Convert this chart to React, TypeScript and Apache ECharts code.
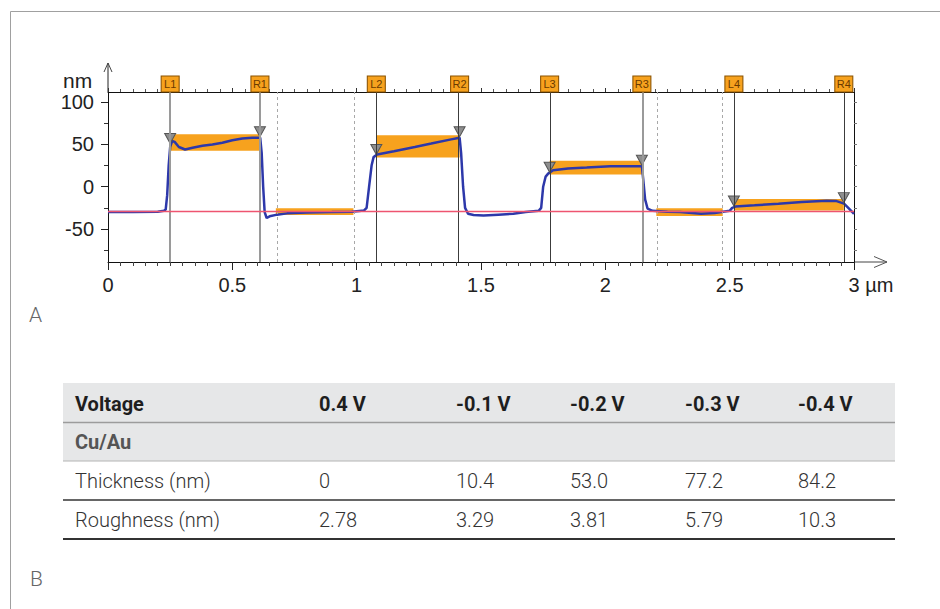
import React, { useEffect, useRef } from 'react';
import * as echarts from 'echarts';

// ---------- chart data ----------
const profileX = [0, 0.1, 0.2, 0.225, 0.232, 0.238, 0.244, 0.25, 0.258, 0.268, 0.285, 0.31, 0.34, 0.38, 0.42, 0.46, 0.5, 0.54, 0.58, 0.605, 0.612, 0.618, 0.624, 0.63, 0.638, 0.65, 0.68, 0.72, 0.8, 0.9, 0.98, 1.03, 1.04, 1.05, 1.06, 1.068, 1.082, 1.15, 1.234, 1.3, 1.38, 1.414, 1.42, 1.428, 1.436, 1.448, 1.47, 1.51, 1.57, 1.63, 1.68, 1.732, 1.742, 1.75, 1.76, 1.77, 1.79, 1.85, 1.925, 2.02, 2.147, 2.152, 2.16, 2.17, 2.19, 2.25, 2.3, 2.385, 2.44, 2.5, 2.51, 2.523, 2.6, 2.696, 2.79, 2.89, 2.93, 2.96, 2.98, 3.0];
const profileY = [-30, -30, -29.5, -28.5, -27, -10, 25, 47, 54, 53, 47, 44, 46, 48.5, 50, 52, 55, 57, 58, 58, 58, 40, 0, -30, -37, -35, -33, -31.5, -30.5, -30, -29.5, -28, -25, 0, 25, 35, 38, 42, 47, 51, 56, 58, 40, 0, -25, -32, -33.5, -34, -33, -32, -30, -28.5, -25, 0, 12, 15.5, 19.5, 21.5, 22.7, 24.3, 24.3, 10, -15, -26, -28.5, -29.5, -30, -32, -31, -28.5, -25, -23.5, -22, -20, -18, -16.5, -17, -20, -26, -32];

const cursorNames = ['L1', 'R1', 'L2', 'R2', 'L3', 'R3', 'L4', 'R4'];
const cursorX = [0.25, 0.611, 1.079, 1.414, 1.776, 2.147, 2.517, 2.959];
const cursorY = [50, 58, 37, 58, 16, 24.3, -24, -20];
const grayCursors = ['L1', 'R1', 'R3'];
const referenceX = [0.675, 0.987, 2.205, 2.472];

const bandX0 = [0.25, 0.675, 1.079, 1.776, 2.205, 2.517];
const bandX1 = [0.611, 0.987, 1.414, 2.147, 2.472, 2.959];
const bandLow = [42.4, -33.5, 34.5, 14.5, -34.5, -28];
const bandHigh = [62, -25.5, 61, 30.6, -25.5, -14.5];

const baselineY = -28.6;
const yMin = -89;
const yMax = 112;
const yLabelValues = [-50, 0, 50, 100];
const yMinorValues = [-75, -25, 25, 75];
const yRightTicks = [-75, -50, -25, 0, 25, 50, 75, 100];

// ---------- table data ----------
const tableHeader = ['Voltage', '0.4 V', '-0.1 V', '-0.2 V', '-0.3 V', '-0.4 V'];
const groupLabel = 'Cu/Au';
const thicknessLabel = 'Thickness (nm)';
const thicknessValues = ['0', '10.4', '53.0', '77.2', '84.2'];
const roughnessLabel = 'Roughness (nm)';
const roughnessValues = ['2.78', '3.29', '3.81', '5.79', '10.3'];

// ---------- style ----------
const ORANGE = '#F7A21E';
const BLUE = '#2D38AA';
const RED = '#EE5570';
const AXIS_FONT = 'Liberation Sans, Arial, sans-serif';
const TABLE_FONT = 'Roboto, Liberation Sans, sans-serif';

const colX = [75, 319, 456, 570, 685, 798];
const TABLE_LEFT = 63;
const TABLE_W = 832;

function buildTable(): any[] {
  const els: any[] = [];
  els.push({ type: 'rect', shape: { x: TABLE_LEFT, y: 383, width: TABLE_W, height: 78 }, style: { fill: '#E6E7E8' }, silent: true });
  els.push({ type: 'line', shape: { x1: TABLE_LEFT, y1: 422.5, x2: TABLE_LEFT + TABLE_W, y2: 422.5 }, style: { stroke: '#9C9C9C', lineWidth: 1.5 } });
  els.push({ type: 'line', shape: { x1: TABLE_LEFT, y1: 461, x2: TABLE_LEFT + TABLE_W, y2: 461 }, style: { stroke: '#B4B4B4', lineWidth: 1 } });
  els.push({ type: 'line', shape: { x1: TABLE_LEFT, y1: 500, x2: TABLE_LEFT + TABLE_W, y2: 500 }, style: { stroke: '#333', lineWidth: 1.5 } });
  els.push({ type: 'line', shape: { x1: TABLE_LEFT, y1: 539, x2: TABLE_LEFT + TABLE_W, y2: 539 }, style: { stroke: '#333', lineWidth: 2 } });
  tableHeader.forEach((t, i) => {
    els.push({ type: 'text', x: colX[i], y: 404, style: { text: t, font: `bold 20px ${TABLE_FONT}`, fill: '#1E1E1E', textVerticalAlign: 'middle' } });
  });
  els.push({ type: 'text', x: colX[0], y: 442, style: { text: groupLabel, font: `bold 20px ${TABLE_FONT}`, fill: '#555', textVerticalAlign: 'middle' } });
  const rows: [string, string[], number][] = [
    [thicknessLabel, thicknessValues, 481],
    [roughnessLabel, roughnessValues, 520],
  ];
  rows.forEach(([label, vals, y]) => {
    els.push({ type: 'text', x: colX[0], y, style: { text: label, font: `300 20px ${TABLE_FONT}`, fill: '#333', textVerticalAlign: 'middle' } });
    vals.forEach((v, i) => {
      els.push({ type: 'text', x: colX[i + 1], y, style: { text: v, font: `300 20px ${TABLE_FONT}`, fill: '#333', textVerticalAlign: 'middle' } });
    });
  });
  return els;
}

function buildOption(): any {
  const cursorLines = cursorX.map((x, i) => {
    const gray = grayCursors.includes(cursorNames[i]);
    return {
      xAxis: x,
      lineStyle: { color: gray ? '#9A9A9A' : '#3C3C3C', width: gray ? 2 : 1, type: 'solid' },
    };
  });
  const refLines = referenceX.map((x) => ({
    xAxis: x,
    lineStyle: { color: '#A8A8A8', width: 1, type: [3, 3] },
  }));
  const baseline = { yAxis: baselineY, lineStyle: { color: RED, width: 1.3, type: 'solid' } };

  return {
    animation: false,
    backgroundColor: '#fff',
    grid: { left: 108, top: 92, width: 746, height: 170, containLabel: false },
    xAxis: [
      {
        type: 'value', position: 'bottom', min: 0, max: 3, interval: 0.5,
        axisLine: { show: true, onZero: false, lineStyle: { color: '#111', width: 1 } },
        axisTick: { show: true, length: 8, lineStyle: { color: '#222' } },
        minorTick: { show: true, splitNumber: 10, length: 4, lineStyle: { color: '#444' } },
        splitLine: { show: false },
        axisLabel: {
          fontFamily: AXIS_FONT, fontSize: 20, color: '#222', margin: 13,
          formatter: (v: number) => (v === 3 ? '{p|}3 µm' : String(v)),
          rich: { p: { width: 34 } },
        },
      },
      {
        type: 'value', position: 'top', min: 0, max: 3, interval: 0.5,
        axisLine: { show: true, onZero: false, lineStyle: { color: '#111', width: 1 } },
        axisTick: { show: true, length: 4, lineStyle: { color: '#333' } },
        minorTick: { show: true, splitNumber: 10, length: 3, lineStyle: { color: '#555' } },
        splitLine: { show: false },
        axisLabel: { show: false },
      },
    ],
    yAxis: [
      {
        type: 'value', position: 'left', min: yMin, max: yMax,
        axisLine: { show: true, onZero: false, lineStyle: { color: '#111', width: 1 } },
        axisTick: { show: true, length: 7, customValues: yLabelValues, lineStyle: { color: '#222' } },
        splitLine: { show: false },
        axisLabel: { customValues: yLabelValues, fontFamily: AXIS_FONT, fontSize: 20, color: '#222', margin: 14 },
      },
      {
        type: 'value', position: 'left', min: yMin, max: yMax,
        axisLine: { show: false, onZero: false },
        axisTick: { show: true, length: 4, customValues: yMinorValues, lineStyle: { color: '#333' } },
        splitLine: { show: false },
        axisLabel: { show: false },
      },
      {
        type: 'value', position: 'right', min: yMin, max: yMax,
        axisLine: { show: true, onZero: false, lineStyle: { color: '#111', width: 1 } },
        axisTick: { show: true, length: 3, customValues: yRightTicks, lineStyle: { color: '#777' } },
        splitLine: { show: false },
        axisLabel: { show: false },
      },
    ],
    series: [
      {
        name: 'bands', type: 'line', data: [], z: 1, silent: true,
        markArea: {
          silent: true,
          itemStyle: { color: ORANGE, opacity: 1 },
          data: bandX0.map((x0, i) => [
            { xAxis: x0, yAxis: bandLow[i] },
            { xAxis: bandX1[i], yAxis: bandHigh[i] },
          ]),
        },
      },
      {
        name: 'guides', type: 'line', data: [], z: 2, silent: true,
        markLine: {
          silent: true, symbol: ['none', 'none'], label: { show: false },
          emphasis: { disabled: true },
          data: [...refLines, ...cursorLines, baseline],
        },
      },
      {
        name: 'profile', type: 'line', z: 3, showSymbol: false, symbol: 'none',
        lineStyle: { color: BLUE, width: 2.5 },
        data: profileX.map((x, i) => [x, profileY[i]]),
      },
      {
        name: 'markers', type: 'scatter', z: 4, silent: true,
        symbol: 'triangle', symbolRotate: 180, symbolSize: [11, 10], symbolOffset: [0, -6],
        itemStyle: { color: '#8E8E8E', borderColor: '#555', borderWidth: 1, opacity: 1 },
        data: cursorX.map((x, i) => [x, cursorY[i]]),
      },
      {
        name: 'cursorTags', type: 'scatter', z: 5, silent: true, clip: false,
        symbol: 'rect', symbolSize: [18, 16], symbolOffset: [0, -8],
        itemStyle: { color: ORANGE, borderColor: '#8A5200', borderWidth: 1, opacity: 1 },
        label: { show: true, position: 'inside', formatter: '{b}', fontSize: 11, color: '#6B3A00', fontFamily: AXIS_FONT },
        data: cursorX.map((x, i) => ({ name: cursorNames[i], value: [x, yMax] })),
      },
    ],
    graphic: [
      { type: 'polyline', shape: { points: [[10.5, 609], [10.5, 11.5], [940, 11.5]] }, style: { stroke: '#A0A0A0', lineWidth: 1, fill: 'none' }, silent: true },
      { type: 'line', shape: { x1: 108, y1: 92, x2: 108, y2: 63 }, style: { stroke: '#222', lineWidth: 1 } },
      { type: 'polyline', shape: { points: [[104, 72], [108, 63], [112, 72]] }, style: { stroke: '#444', lineWidth: 1, fill: 'none' } },
      { type: 'line', shape: { x1: 854, y1: 262, x2: 887, y2: 262 }, style: { stroke: '#444', lineWidth: 1 } },
      { type: 'polyline', shape: { points: [[874, 256.5], [887, 262], [874, 267.5]] }, style: { stroke: '#555', lineWidth: 1, fill: 'none' } },
      { type: 'text', x: 63, y: 80, style: { text: 'nm', font: `21px ${AXIS_FONT}`, fill: '#222', textVerticalAlign: 'middle' } },
      { type: 'text', x: 29, y: 315, style: { text: 'A', font: `300 21px ${TABLE_FONT}`, fill: '#666', textVerticalAlign: 'middle' } },
      { type: 'text', x: 30, y: 579, style: { text: 'B', font: `300 21px ${TABLE_FONT}`, fill: '#666', textVerticalAlign: 'middle' } },
      ...buildTable(),
    ],
  };
}

export default function App() {
  const ref = useRef<HTMLDivElement>(null);
  useEffect(() => {
    if (!ref.current) return;
    const chart = echarts.init(ref.current, null, { renderer: 'svg' });
    chart.setOption(buildOption());
    return () => chart.dispose();
  }, []);
  return (
    <div
      ref={ref}
      style={{ position: 'fixed', left: 0, top: 0, width: 940, height: 609, background: '#fff' }}
    />
  );
}
